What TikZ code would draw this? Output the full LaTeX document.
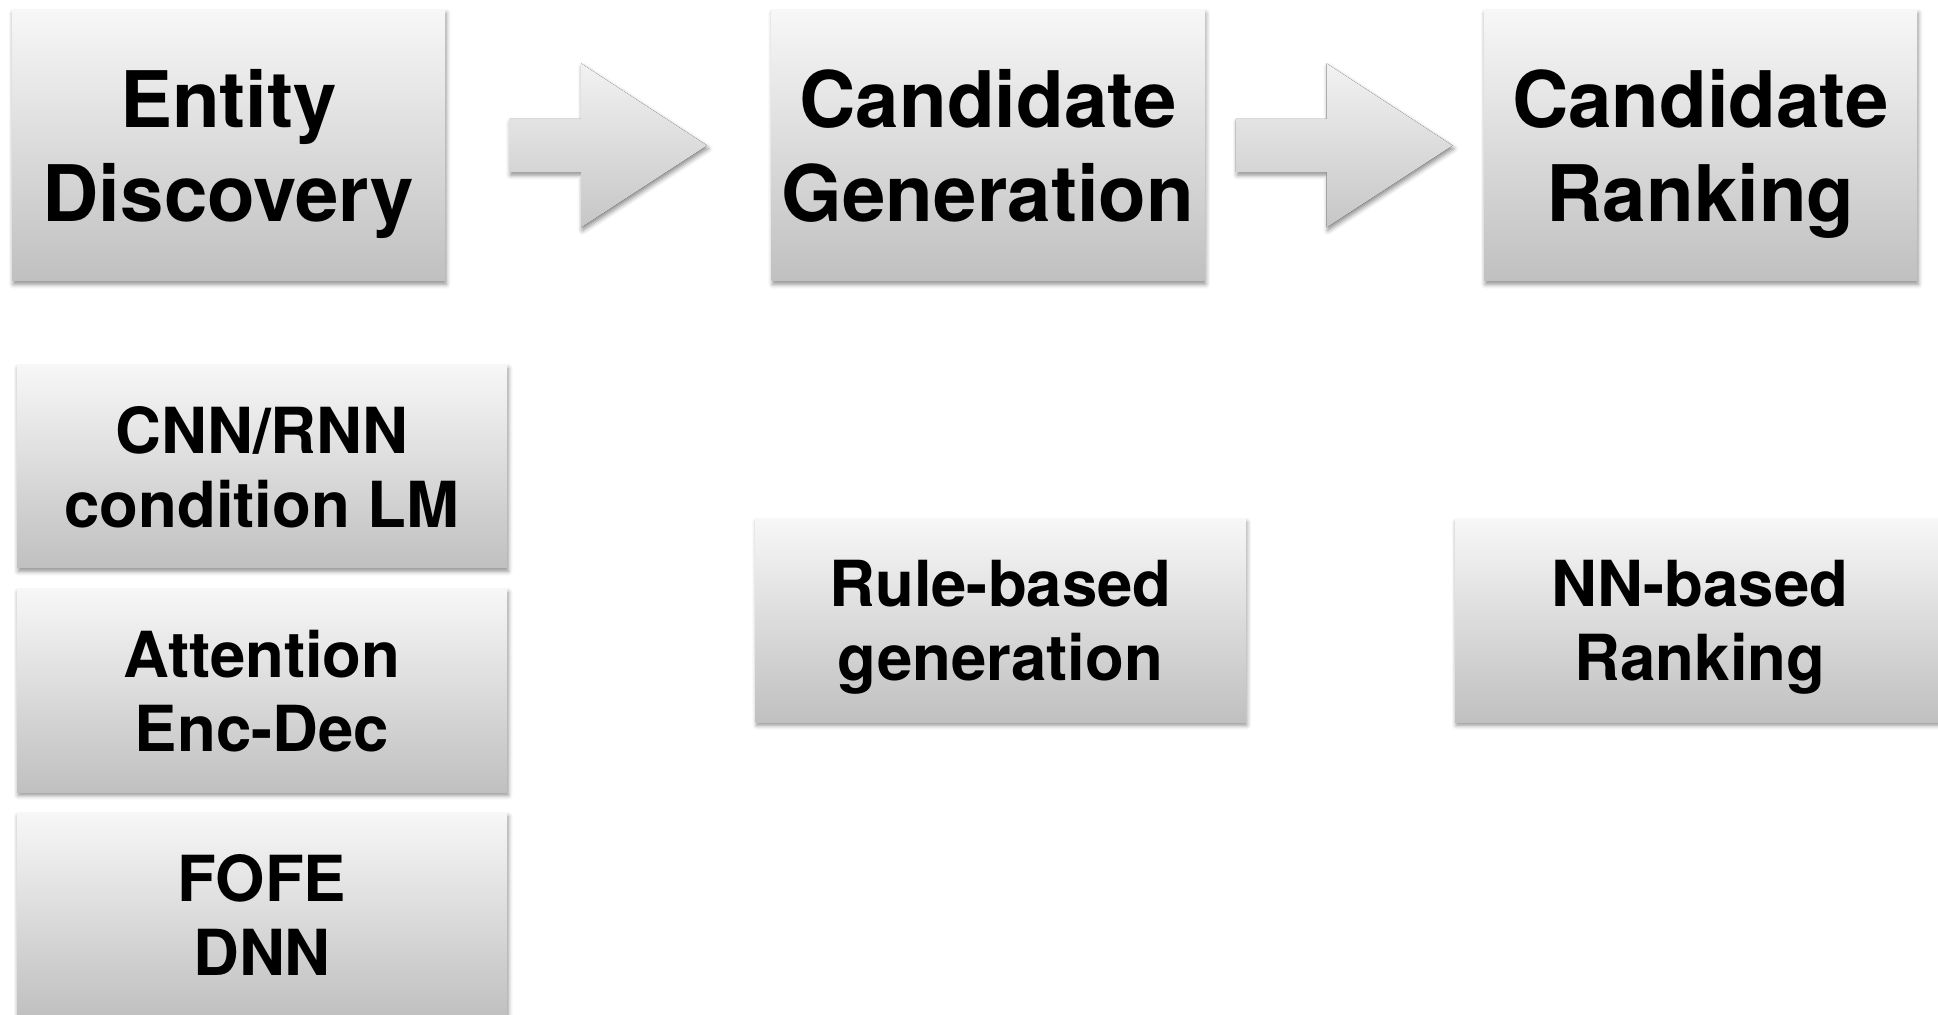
\documentclass[tikz,border=0pt]{standalone}
\usepackage{fontspec}
\setmainfont{TeX Gyre Heros}
\usetikzlibrary{calc,shadows.blur}

\definecolor{boxtop}{HTML}{F7F7F7}
\definecolor{boxbot}{HTML}{C0C0C0}
\definecolor{arrtop}{HTML}{F2F2F2}
\definecolor{arrbot}{HTML}{C6C6C6}

\begin{document}
\begin{tikzpicture}[x=0.5pt,y=-0.5pt,
  softshadow/.style={blur shadow={shadow xshift=0.6pt, shadow yshift=-1.6pt,
      shadow blur radius=2.2pt, shadow opacity=45}},
  stage/.style={rectangle, inner sep=0pt, align=center, text depth=0pt,
      top color=boxtop, bottom color=boxbot, softshadow,
      minimum width=216.5pt, minimum height=135.5pt,
      font=\bfseries\fontsize{39}{47}\selectfont},
  method/.style={rectangle, inner sep=0pt, align=center, text depth=0pt,
      top color=boxtop, bottom color=boxbot, softshadow,
      minimum width=245pt, minimum height=101.5pt,
      font=\bfseries\fontsize{31.75}{37}\selectfont},
  blockarrow/.style={top color=arrtop, bottom color=arrbot, softshadow},
]
\useasboundingbox (0,0) rectangle (1938,1015);
\clip (0,0) rectangle (1938,1015);

% pipeline stages
\node[stage] (ed) at (228.5,145.5) {Entity\\Discovery};
\node[stage] (cg) at (988,145.5)   {Candidate\\Generation};
\node[stage] (cr) at (1700.5,145.5) {Candidate\\Ranking};

% methods used in each stage
\node[method] (m1) at (262,466.5) {CNN/RNN\\condition LM};
\node[method] (m2) at (262,690.5) {Attention\\Enc-Dec};
\node[method] (m3) at (262,914.5) {FOFE\\DNN};
\node[method] (rb) at (1000.5,620.5) {Rule-based\\generation};
\node[method] (nn) at (1700,620.5) {NN-based\\Ranking};

% block arrows between the stages
\coordinate (a1s) at ($(ed.east)+(64,0)$);
\coordinate (a1t) at ($(cg.west)+(-64,0)$);
\coordinate (a2s) at ($(cg.east)+(31,0)$);
\coordinate (a2t) at ($(cr.west)+(-31,0)$);

\fill[blockarrow] (a1t) -- ++(-126,-82) -- ++(0,55.5)
  -- ($(a1s)+(0,-26.5)$) -- ($(a1s)+(0,26.5)$)
  -- ($(a1t)+(-126,26.5)$) -- ++(0,55.5) -- cycle;
\fill[blockarrow] (a2t) -- ++(-126,-82) -- ++(0,55.5)
  -- ($(a2s)+(0,-26.5)$) -- ($(a2s)+(0,26.5)$)
  -- ($(a2t)+(-126,26.5)$) -- ++(0,55.5) -- cycle;
\end{tikzpicture}
\end{document}
